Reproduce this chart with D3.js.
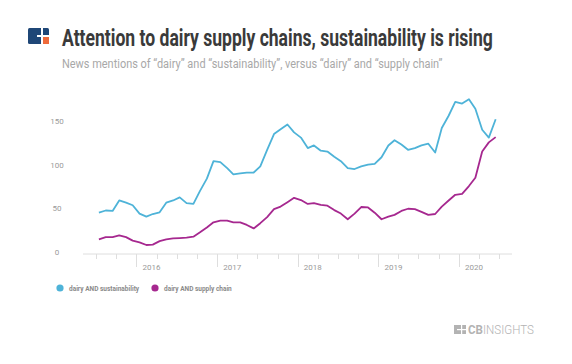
<!DOCTYPE html>
<html>
<head>
<meta charset="utf-8">
<script src="https://cdn.jsdelivr.net/npm/d3@7"></script>
<style>
  html, body { margin: 0; padding: 0; background: #fff; }
  svg text { font-family: Roboto, "Noto Sans", sans-serif; }
</style>
</head>
<body>
<div id="chart"></div>
<script>
/*global d3:false */

// Monthly news mentions, Jul 2015 .. Jun 2020
var startMonth = [2015, 6];   // year, zero-based month
var sustainability = [
  45, 47.5, 47, 59, 56.5, 53.5,
  44, 40.5, 43.5, 45.5, 56.5, 59, 62.5, 56, 55, 70, 84, 104,
  103, 96, 89, 90, 91, 91, 98, 117, 135, 140.5, 146, 137,
  131, 119, 122, 116, 115, 109, 104, 96, 95, 98, 100, 101,
  108.5, 122, 128, 123, 117, 119, 122, 124, 114, 142, 156, 172,
  170, 175, 164, 140, 131, 152
];
var supplyChain = [
  14.5, 17, 17, 19, 17, 13,
  11, 8, 8.5, 12.5, 14.5, 15.5, 16, 16.5, 17.5, 22.5, 28, 34,
  36, 36, 34, 34, 31, 27, 33, 40, 49, 52, 57, 62,
  59.5, 55, 56, 54, 53, 48, 44, 37.5, 44, 51.5, 51, 45,
  37.5, 40.5, 42.5, 47, 49.5, 49, 46, 42.5, 43.5, 52, 59, 65.5,
  66.5, 75.5, 85, 115, 125.5, 131.5
];
var seriesNames = ['dairy AND sustainability', 'dairy AND supply chain'];
var seriesColors = ['#4eb3d8', '#a6288f'];
var yTicks = [0, 50, 100, 150];
var yearTicks = [2016, 2017, 2018, 2019, 2020];

(function() {
  var width = 572, height = 364;

  var svg = d3.select('#chart').append('svg')
      .attr('width', width)
      .attr('height', height);

  // squeeze a text horizontally so it fills `w` px (stand-in for a condensed face)
  var condensed = function(parent, tx, ty, w) {
    var g = parent.append('g');
    var t = g.append('text').attr('x', 0).attr('y', 0);
    return {
      text: t,
      fit: function() {
        var len = t.node().getComputedTextLength();
        g.attr('transform', 'translate(' + tx + ',' + ty + ') scale(' + (w / len) + ',1)');
      }
    };
  };

  // --- header -------------------------------------------------------------
  var logo = svg.append('g').attr('transform', 'translate(28,28)');
  logo.append('rect').attr('x', 0).attr('y', 0).attr('width', 21).attr('height', 16)
      .attr('rx', 1.5).attr('fill', '#1f4777');
  logo.append('rect').attr('x', 15).attr('y', 9).attr('width', 6).attr('height', 7)
      .attr('fill', '#ef6a3a');
  logo.append('rect').attr('x', 9).attr('y', 7).attr('width', 12).attr('height', 2)
      .attr('fill', '#fff');
  logo.append('rect').attr('x', 13).attr('y', 0).attr('width', 2).attr('height', 16)
      .attr('fill', '#fff');

  var title = condensed(svg, 62, 46, 431);
  title.text
      .attr('font-size', 23).attr('font-weight', 700)
      .attr('fill', '#3a3a3a')
      .text('Attention to dairy supply chains, sustainability is rising');
  title.fit();

  var sub = condensed(svg, 62, 68, 381);
  sub.text
      .attr('font-size', 13.5)
      .attr('fill', '#a8a8a8')
      .text('News mentions of \u201cdairy\u201d and \u201csustainability\u201d, versus \u201cdairy\u201d and \u201csupply chain\u201d');
  sub.fit();

  // --- scales -------------------------------------------------------------
  var monthDate = function(i) {
    return new Date(startMonth[0], startMonth[1] + i, 15);
  };

  var x = d3.scaleTime()
      .domain([new Date(2015, 4, 4), new Date(2020, 7, 28)])
      .range([83, 512]);

  var y = d3.scaleLinear()
      .domain([0, 150])
      .range([252, 121]);

  // --- y labels -----------------------------------------------------------
  svg.append('g').selectAll('text')
      .data(yTicks)
      .enter().append('text')
      .attr('x', 57)
      .attr('y', function(d) { return y(d) + 3; })
      .attr('text-anchor', 'middle')
      .attr('font-size', 8)
      .attr('fill', '#9a9a9a')
      .text(function(d) { return d; });

  // --- x axis -------------------------------------------------------------
  var axisY = 254;
  var xg = svg.append('g');
  xg.append('line')
      .attr('x1', 83).attr('x2', 512)
      .attr('y1', axisY).attr('y2', axisY)
      .attr('stroke', '#dedede').attr('stroke-width', 1);

  var quarters = d3.timeMonth.every(3).range(new Date(2015, 5, 1), new Date(2020, 8, 1));
  xg.selectAll('line.tick')
      .data(quarters)
      .enter().append('line')
      .classed('tick', true)
      .attr('x1', function(d) { return Math.round(x(d)) + 0.5; })
      .attr('x2', function(d) { return Math.round(x(d)) + 0.5; })
      .attr('y1', axisY)
      .attr('y2', function(d) { return d.getMonth() === 0 ? axisY + 13 : axisY + 5; })
      .attr('stroke', '#dedede').attr('stroke-width', 1);

  xg.selectAll('text')
      .data(yearTicks)
      .enter().append('text')
      .attr('x', function(d) { return x(new Date(d, 0, 1)) + 6; })
      .attr('y', axisY + 16)
      .attr('font-size', 8)
      .attr('fill', '#9a9a9a')
      .text(function(d) { return d; });

  // --- lines --------------------------------------------------------------
  var line = d3.line()
      .x(function(d, i) { return x(monthDate(i)); })
      .y(function(d) { return y(d); });

  [sustainability, supplyChain].forEach(function(values, k) {
    svg.append('path')
        .datum(values)
        .attr('d', line)
        .attr('fill', 'none')
        .attr('stroke', seriesColors[k])
        .attr('stroke-width', 1.8)
        .attr('stroke-linejoin', 'round');
  });

  // --- legend -------------------------------------------------------------
  var legendX = [60, 155];
  var legend = svg.append('g').selectAll('g')
      .data(seriesNames)
      .enter().append('g')
      .attr('transform', function(d, i) { return 'translate(' + legendX[i] + ',288)'; });

  legend.append('circle')
      .attr('r', 3.6)
      .attr('fill', function(d, i) { return seriesColors[i]; });

  legend.append('text')
      .attr('x', 9).attr('y', 2.5)
      .attr('font-size', 6.5).attr('font-weight', 700)
      .attr('fill', '#8a8a8a')
      .text(function(d) { return d; });

  // --- footer logo --------------------------------------------------------
  var foot = svg.append('g').attr('transform', 'translate(454,325)');
  foot.append('rect').attr('width', 12).attr('height', 9).attr('fill', '#b3b3b3');
  foot.append('rect').attr('x', 7).attr('y', 0).attr('width', 1.2).attr('height', 9).attr('fill', '#fff');
  foot.append('rect').attr('x', 3).attr('y', 4).attr('width', 9).attr('height', 1.2).attr('fill', '#fff');
  var ft = condensed(foot, 14, 9, 66);
  ft.text.attr('font-size', 12.5).attr('fill', '#b3b3b3');
  ft.text.append('tspan').attr('font-weight', 700).text('CB');
  ft.text.append('tspan').attr('font-weight', 300).text('INSIGHTS');
  ft.fit();
}());
</script>
</body>
</html>
